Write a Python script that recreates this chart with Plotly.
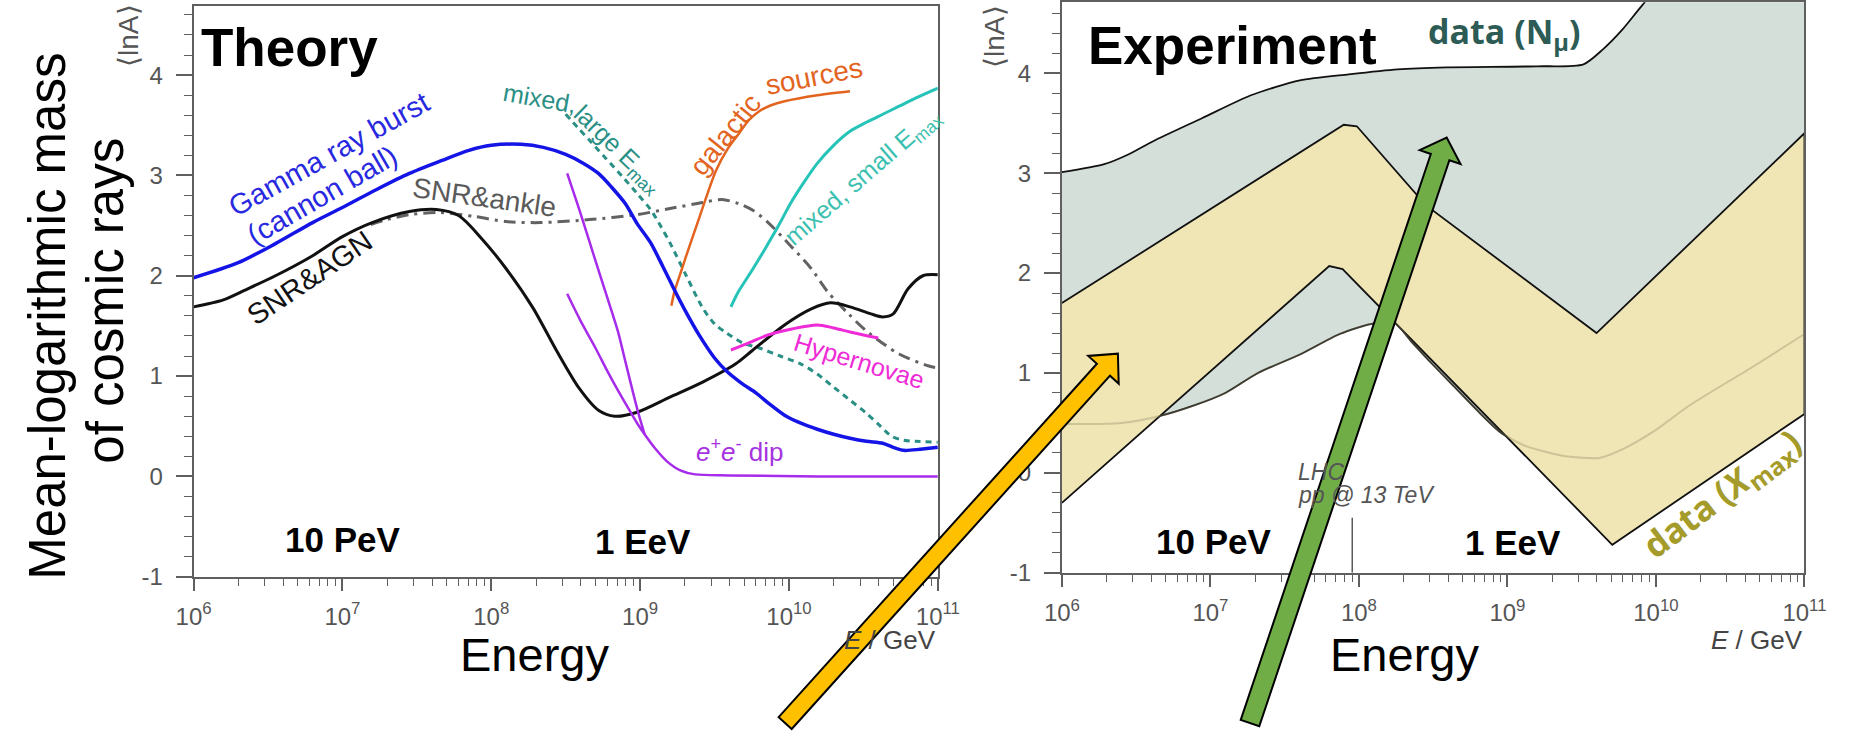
import math
import plotly.graph_objects as go

W, H = 1865, 742

# ---------------- data (log10 E/GeV, <lnA>) ----------------
# Theory panel
grb_logE = [6.0, 6.3, 6.55, 6.8, 7.0, 7.23, 7.45, 7.67, 7.85, 8.0, 8.2, 8.35, 8.5, 8.62, 8.72, 8.81, 8.9, 8.98,
            9.07, 9.15, 9.23, 9.3, 9.4, 9.5, 9.58, 9.68, 9.78, 9.87, 9.97, 10.08, 10.19, 10.3, 10.41, 10.52,
            10.63, 10.7, 10.77, 10.88, 11.0]
grb_lnA = [1.98, 2.13, 2.32, 2.53, 2.68, 2.86, 3.02, 3.15, 3.25, 3.30, 3.31, 3.28, 3.21, 3.12, 3.02, 2.88, 2.72, 2.52,
           2.33, 2.10, 1.86, 1.66, 1.40, 1.18, 1.05, 0.93, 0.83, 0.72, 0.61, 0.53, 0.47, 0.42, 0.38, 0.35,
           0.33, 0.29, 0.26, 0.27, 0.29]

agn_logE = [6.0, 6.2, 6.35, 6.55, 6.8, 7.0, 7.2, 7.45, 7.63, 7.78, 7.93, 8.1, 8.28, 8.44, 8.59, 8.72, 8.83,
            8.98, 9.2, 9.42, 9.64, 9.75, 9.97, 10.15, 10.28, 10.41, 10.55, 10.63, 10.7, 10.8, 10.9, 11.0]
agn_lnA = [1.69, 1.76, 1.86, 2.0, 2.2, 2.39, 2.53, 2.64, 2.66, 2.60, 2.38, 2.07, 1.68, 1.25, 0.88, 0.66, 0.60,
           0.64, 0.79, 0.94, 1.12, 1.25, 1.51, 1.67, 1.73, 1.69, 1.62, 1.59, 1.62, 1.87, 2.0, 2.01]

ankle_logE = [7.19, 7.3, 7.45, 7.65, 7.89, 8.1, 8.33, 8.66, 8.98, 9.2, 9.42, 9.55, 9.66, 9.76, 9.86, 10.01,
              10.15, 10.26, 10.4, 10.52, 10.74, 10.94, 11.0]
ankle_lnA = [2.51, 2.56, 2.61, 2.63, 2.59, 2.54, 2.53, 2.56, 2.61, 2.67, 2.73, 2.76, 2.72, 2.65, 2.53, 2.30,
             2.07, 1.84, 1.62, 1.45, 1.22, 1.10, 1.08]

mixL_logE = [8.50, 8.58, 8.66, 8.77, 8.88, 8.98, 9.07, 9.14, 9.2, 9.31, 9.42, 9.5, 9.58, 9.69, 9.8, 9.94,
             10.08, 10.19, 10.3, 10.41, 10.52, 10.6, 10.69, 10.77, 10.85, 11.0]
mixL_lnA = [3.61, 3.48, 3.35, 3.17, 2.99, 2.82, 2.66, 2.49, 2.33, 2.00, 1.68, 1.52, 1.43, 1.33, 1.28, 1.20,
            1.12, 1.02, 0.89, 0.76, 0.63, 0.52, 0.40, 0.36, 0.35, 0.34]

gal_logE = [9.21, 9.23, 9.27, 9.31, 9.40, 9.51, 9.59, 9.66, 9.73, 9.80, 9.88, 9.97, 10.19, 10.41]
gal_lnA = [1.70, 1.84, 2.02, 2.20, 2.59, 3.05, 3.27, 3.41, 3.55, 3.64, 3.70, 3.74, 3.80, 3.84]

mixS_logE = [9.61, 9.66, 9.75, 9.84, 9.93, 10.01, 10.1, 10.19, 10.3, 10.41, 10.52, 10.63, 10.74, 10.85, 11.0]
mixS_lnA = [1.69, 1.84, 2.05, 2.27, 2.50, 2.72, 2.93, 3.12, 3.30, 3.44, 3.53, 3.61, 3.69, 3.77, 3.87]

hyp_logE = [9.61, 9.73, 9.86, 10.02, 10.19, 10.3, 10.41, 10.5, 10.6]
hyp_lnA = [1.26, 1.33, 1.41, 1.47, 1.51, 1.48, 1.44, 1.41, 1.38]

dipA_logE = [8.51, 8.6, 8.7, 8.78, 8.85, 8.9, 8.95, 8.99, 9.03]
dipA_lnA = [3.02, 2.62, 2.15, 1.78, 1.45, 1.15, 0.85, 0.62, 0.42]
dipB_logE = [8.51, 8.6, 8.7, 8.78, 8.85, 8.92, 8.98, 9.03, 9.1, 9.18, 9.27, 9.37, 9.6, 10.2, 11.0]
dipB_lnA = [1.82, 1.55, 1.28, 1.05, 0.86, 0.68, 0.53, 0.42, 0.28, 0.15, 0.06, 0.02, 0.01, 0.0, 0.0]

# Experiment panel
mu_up_logE = [6.0, 6.285, 6.45, 6.614, 6.943, 7.273, 7.602, 7.931, 8.26, 8.59, 9.2, 9.512, 9.643, 9.775,
              9.907, 10.1, 11.0]
mu_up_lnA = [3.01, 3.09, 3.19, 3.32, 3.55, 3.78, 3.93, 3.99, 4.04, 4.06, 4.07, 4.09, 4.24, 4.44,
             4.68, 5.0, 5.2]
mu_lo_logE = [6.0, 6.4, 6.66, 6.88, 7.1, 7.32, 7.61, 7.87, 8.08, 8.24, 8.35, 8.5, 8.65, 8.8, 8.95, 9.12,
              9.38, 9.62, 9.78, 10.0, 10.22, 10.65, 11.0]
mu_lo_lnA = [0.49, 0.50, 0.57, 0.67, 0.80, 1.00, 1.19, 1.39, 1.49, 1.50, 1.32, 1.08, 0.85, 0.62, 0.41, 0.27,
             0.17, 0.15, 0.24, 0.43, 0.67, 1.06, 1.39]

xm_up_logE = [6.0, 7.898, 7.986, 8.45, 9.60, 11.0]
xm_up_lnA = [1.70, 3.485, 3.47, 2.68, 1.40, 3.40]
xm_lo_logE = [6.0, 7.80, 7.89, 9.706, 11.0]
xm_lo_lnA = [-0.30, 2.07, 2.04, -0.72, 0.59]

lhc_E = 13000.0 ** 2 / (2 * 0.938)   # pp @ 13 TeV equivalent lab energy in GeV
lhc_lnA = [-1.0, -0.45]

x_tick_exp = [6, 7, 8, 9, 10, 11]
y_ticks = [-1, 0, 1, 2, 3, 4]


def E(lst):
    return [10 ** v for v in lst]


fig = go.Figure()


def line(xs, ys, color, width, dash=None, axes=("x", "y"), spline=True):
    fig.add_trace(go.Scatter(
        x=E(xs), y=ys, mode="lines", xaxis=axes[0], yaxis=axes[1],
        line=dict(color=color, width=width, dash=dash,
                  shape="spline" if spline else "linear", smoothing=0.8),
        showlegend=False, hoverinfo="skip"))


# Theory curves
line(ankle_logE, ankle_lnA, "#626262", 3, dash="12px,6px,3px,6px")
line(mixL_logE, mixL_lnA, "#2A8F85", 3, dash="6px,5px")
line(agn_logE, agn_lnA, "#111111", 3)
line(gal_logE, gal_lnA, "#E2641E", 2.5)
line(mixS_logE, mixS_lnA, "#26C4B8", 3)
line(hyp_logE, hyp_lnA, "#EE2BD6", 3)
line(dipA_logE, dipA_lnA, "#A72BEA", 2.5)
line(dipB_logE, dipB_lnA, "#A72BEA", 2.5)
line(grb_logE, grb_lnA, "#1414E6", 3.5)

# Experiment bands
fig.add_trace(go.Scatter(x=E(mu_lo_logE), y=mu_lo_lnA, mode="lines", xaxis="x2", yaxis="y2",
                         line=dict(color="#111111", width=1.8, shape="spline", smoothing=0.7),
                         showlegend=False, hoverinfo="skip"))
fig.add_trace(go.Scatter(x=E(mu_up_logE), y=mu_up_lnA, mode="lines", xaxis="x2", yaxis="y2",
                         fill="tonexty", fillcolor="#D5DFDA",
                         line=dict(color="#111111", width=1.8, shape="spline", smoothing=0.7),
                         showlegend=False, hoverinfo="skip"))
fig.add_trace(go.Scatter(x=E(xm_up_logE + xm_lo_logE[::-1]), y=xm_up_lnA + xm_lo_lnA[::-1],
                         mode="lines", xaxis="x2", yaxis="y2", fill="toself", fillcolor="#EFE5B5",
                         line=dict(color="#111111", width=1.8), showlegend=False, hoverinfo="skip"))
fig.add_trace(go.Scatter(x=E(mu_lo_logE), y=mu_lo_lnA, mode="lines", xaxis="x2", yaxis="y2",
                         line=dict(color="rgba(140,135,100,0.35)", width=2, shape="spline", smoothing=0.7),
                         showlegend=False, hoverinfo="skip"))
fig.add_trace(go.Scatter(x=[lhc_E, lhc_E], y=lhc_lnA, mode="lines", xaxis="x2", yaxis="y2",
                         line=dict(color="#333333", width=1.2), showlegend=False, hoverinfo="skip"))

# ---------------- axes ----------------
axcol = "#5f5f5f"
tickfont = dict(family="Liberation Sans, Arial", size=24, color="#555555")
minor_x = [k * 10 ** n for n in range(6, 11) for k in range(2, 10)]


def xaxis_cfg(x0, x1, anchor):
    return dict(domain=[x0 / W, x1 / W], type="log", range=[6, 11], anchor=anchor,
                showline=True, linecolor=axcol, linewidth=2, mirror=True,
                ticks="outside", ticklen=12, tickwidth=1.6, tickcolor=axcol,
                tickvals=[10 ** e for e in x_tick_exp],
                ticktext=[f"10<sup>{e}</sup>" for e in x_tick_exp],
                tickfont=tickfont, ticklabelstandoff=5,
                minor=dict(tickvals=minor_x, ticks="outside", ticklen=7, tickwidth=1.2, tickcolor=axcol),
                showgrid=False, zeroline=False)


def yaxis_cfg(ybot, ytop, top_val, anchor):
    return dict(domain=[1 - ybot / H, 1 - ytop / H], range=[-1, top_val], anchor=anchor,
                showline=True, linecolor=axcol, linewidth=2, mirror=True,
                ticks="outside", ticklen=16, tickwidth=1.6, tickcolor=axcol,
                tickvals=y_ticks, ticktext=[str(v) for v in y_ticks],
                tickfont=tickfont, ticklabelstandoff=8,
                minor=dict(dtick=0.2, tick0=0, ticks="outside", ticklen=8, tickwidth=1.2, tickcolor=axcol),
                showgrid=False, zeroline=False)


fig.update_layout(
    width=W, height=H, margin=dict(l=0, r=0, t=0, b=0),
    paper_bgcolor="white", plot_bgcolor="white",
    xaxis=xaxis_cfg(179.4, 940, "y"),
    yaxis=yaxis_cfg(587, 6, 4.69, "x"),
    xaxis2=xaxis_cfg(1066.8, 1825.6, "y2"),
    yaxis2=yaxis_cfg(583, 2.4, 4.71, "x2"),
)

# ---------------- text ----------------
anns = []


def ann(text, x, y, size, color="#000", angle=0, family="Liberation Sans, Arial", xanchor="center",
        weight="normal"):
    anns.append(dict(text=text, x=x / W, y=1 - y / H, xref="paper", yref="paper", showarrow=False,
                     textangle=angle, xanchor=xanchor, yanchor="middle",
                     font=dict(family=family, size=size, color=color, weight=weight)))


ann("Theory", 185, 48, 53, weight="bold", xanchor="left")
ann("Experiment", 1091, 46, 53, weight="bold", xanchor="left")
for xc, yc, t in [(332, 549, "10 PeV"), (639, 551, "1 EeV"), (1222, 551, "10 PeV"), (1528, 552, "1 EeV")]:
    ann(t, xc, yc, 35, weight="bold")
ann("Energy", 528, 666, 47)
ann("Energy", 1417, 666, 47)
ann("<i>E</i> / GeV", 940, 651, 26, color="#444", xanchor="right")
ann("<i>E</i> / GeV", 1826, 651, 26, color="#444", xanchor="right")
ann("Mean-logarithmic mass", 30, 322, 51, angle=-90)
ann("of cosmic rays", 90, 306, 51, angle=-90)
ann("⟨lnA⟩", 113, 37, 28, color="#555", angle=-90)
ann("⟨lnA⟩", 998, 38, 28, color="#555", angle=-90)

ann("Gamma ray burst", 318, 157, 29, color="#2828E0", angle=-29)
ann("(cannon ball)", 311, 198, 29, color="#2828E0", angle=-30)
ann("SNR&amp;ankle", 477, 201, 28, color="#5a5a5a", angle=8)
ann("SNR&amp;AGN", 298, 283, 29, color="#111", angle=-34)
ann("mixed,", 533, 100, 25, color="#2A8F85", angle=10)
ann("large E<sub>max</sub>", 613, 153, 25, color="#2A8F85", angle=44)
ann("galactic", 723, 137, 28, color="#E2641E", angle=-51)
ann("sources", 813, 78, 28, color="#E2641E", angle=-11)
ann("mixed, small E<sub>max</sub>", 864, 180, 25, color="#3BBFB0", angle=-41)
ann("Hypernovae", 860, 367, 25, color="#EE2BD6", angle=17)
ann("<i>e</i><sup>+</sup><i>e</i><sup>-</sup> dip", 738, 459, 26, color="#A633E0")

ann("data (N<sub>μ</sub>)", 1519, 34, 34, color="#2D5B55", family="Open Sans", weight="bold")
ann("data (<i>X</i><sub>max</sub>)", 1742, 503, 35, color="#A59B2A", family="Open Sans", weight="bold",
    angle=-37)
ann("<i>LHC</i>", 1306, 480, 23, color="#555", xanchor="left")
ann("<i>pp @ 13 TeV</i>", 1306, 504, 23, color="#555", xanchor="left")

fig.update_layout(annotations=anns)


# ---------------- fat arrows ----------------
def arrow_path(tail, tip, w, hw, hl):
    tx, ty = tail
    hx, hy = tip
    dx, dy = hx - tx, hy - ty
    L = math.hypot(dx, dy)
    ux, uy = dx / L, dy / L
    nx, ny = -uy, ux
    bx, by = hx - hl * ux, hy - hl * uy
    pts = [(tx + w * nx, ty + w * ny), (bx + w * nx, by + w * ny), (bx + hw * nx, by + hw * ny), (hx, hy),
           (bx - hw * nx, by - hw * ny), (bx - w * nx, by - w * ny), (tx - w * nx, ty - w * ny)]
    return "M " + " L ".join(f"{x / W:.5f},{1 - y / H:.5f}" for x, y in pts) + " Z"


shapes = [
    dict(type="path", xref="paper", yref="paper", path=arrow_path((784, 736), (1124, 360), 9, 21, 22),
         fillcolor="#FFC000", line=dict(color="#000", width=2), layer="above"),
    dict(type="path", xref="paper", yref="paper", path=arrow_path((1259, 736), (1460, 140), 10, 22, 21),
         fillcolor="#70AD47", line=dict(color="#000", width=2), layer="above"),
]
fig.update_layout(shapes=shapes)

fig.write_html("out.html")
